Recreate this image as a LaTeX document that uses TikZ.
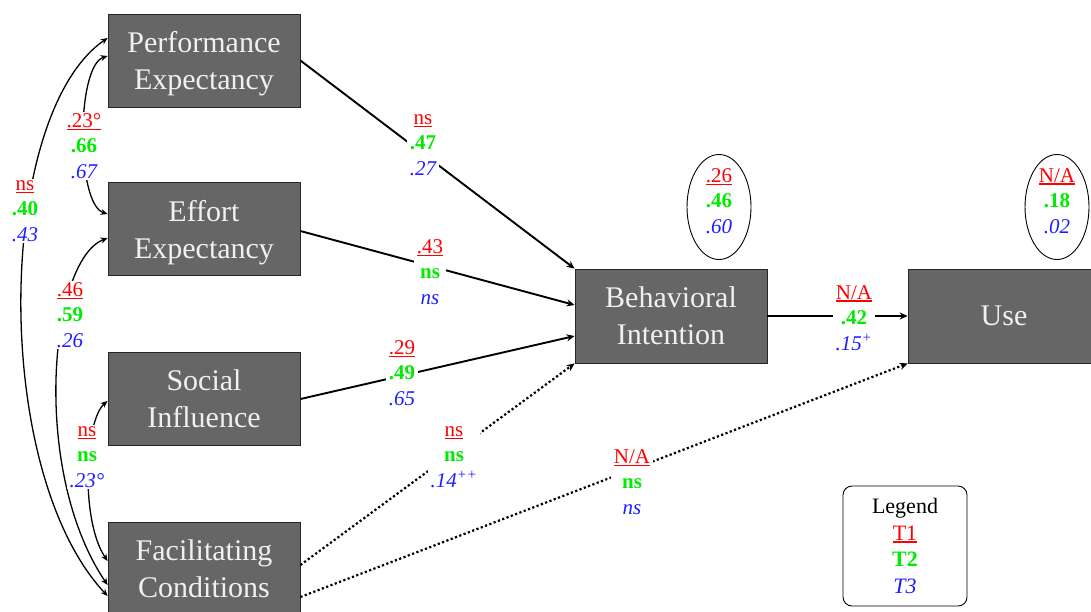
\documentclass[tikz,border=0pt]{standalone}
\usepackage{fontspec}
\setmainfont{Liberation Serif}
\usetikzlibrary{arrows.meta,shapes.geometric}

\definecolor{boxgray}{RGB}{102,102,102}
\definecolor{tone}{RGB}{255,0,0}
\definecolor{ttwo}{RGB}{0,235,0}
\definecolor{tthree}{RGB}{30,30,255}

% the three waves: T1 red underlined, T2 green bold, T3 blue italic
\newsavebox\ulbox
\newcommand\tfirst[1]{\textcolor{tone}{\sbox\ulbox{#1}\rlap{\rule[-3pt]{\wd\ulbox}{1.8pt}}\usebox\ulbox}}
\newcommand\tsecond[1]{\textcolor{ttwo}{\bfseries #1}}
\newcommand\tthird[1]{\textcolor{tthree}{\itshape #1}}

\tikzset{
  box/.style={draw=black!85, line width=0.8pt, fill=boxgray, text=white!94!black,
    minimum width=192pt, minimum height=93pt, inner sep=0pt, align=center,
    font=\fontsize{30}{37}\selectfont},
  twoline/.style={text depth=-3pt},
  vals/.style={align=center, inner xsep=3pt, inner ysep=1pt,
    font=\fontsize{21}{25.5}\selectfont},
  lbl/.style={vals, fill=white},
  rsq/.style={draw, ellipse, line width=0.9pt, minimum width=64pt,
    minimum height=105pt, inner sep=0pt},
  path/.style={line width=1.9pt, -{Stealth[length=8pt,width=7pt]}},
  dpath/.style={line width=2.2pt, dash pattern=on 2.2pt off 2.4pt,
    -{Stealth[length=8pt,width=7pt]}},
  corr/.style={line width=1.3pt, {Stealth[length=7pt,width=6pt]}-{Stealth[length=7pt,width=6pt]}},
}

\begin{document}
\begin{tikzpicture}[x=1pt,y=-1pt]
\useasboundingbox (0,0) rectangle (1091,611);

% constructs
\node[box, twoline] (PE) at (204,60.5) {Performance\\Expectancy};
\node[box, twoline] (EE) at (204,229) {Effort\\Expectancy};
\node[box, twoline] (SI) at (204,399) {Social\\Influence};
\node[box, twoline] (FC) at (204,568.5) {Facilitating\\Conditions};
\node[box, twoline, minimum height=94pt] (BI) at (671,316) {Behavioral\\Intention};
\node[box, minimum height=94pt] (USE) at (1004,316) {Use};

% explained variance
\node[rsq] (rBI) at (719,207) {};
\node[rsq] (rUSE) at (1057,207) {};
\node[vals] (vBI) at (719,201) {\tfirst{.26}\\\tsecond{.46}\\\tthird{.60}};
\node[vals] (vUSE) at (1057,201) {\tfirst{N/A}\\\tsecond{.18}\\\tthird{.02}};

% structural paths
\draw[path] (PE.east) -- (BI.north west);
\draw[path] ([yshift=-2pt]EE.east) -- ([yshift=11pt]BI.west);
\draw[path] (SI.east) -- ([yshift=-20pt]BI.west);
\draw[dpath] ([yshift=3.5pt]FC.east) -- (BI.south west);
\draw[dpath] ([yshift=-28.5pt]FC.east) -- (USE.south west);
\draw[path] (BI.east) -- (USE.west);

% correlations among the predictors
\draw[corr] ([yshift=4.5pt]PE.west) .. controls (76,66) and (76,204) .. ([yshift=15pt]EE.west);
\draw[corr] ([yshift=22.5pt]PE.west) .. controls (-4,115) and (-10,470) .. ([yshift=-27.5pt]FC.west);
\draw[corr] ([yshift=-9pt]EE.west) .. controls (50,260) and (30,470) .. ([yshift=-16.5pt]FC.west);
\draw[corr] ([yshift=-2pt]SI.west) .. controls (85,420) and (80,520) .. ([yshift=7.5pt]FC.west);

% coefficients
\node[lbl] (cPEEE) at (84,146) {\tfirst{.23°}\\\tsecond{.66}\\\tthird{.67}};
\node[lbl] (cPEFC) at (25,211) {\tfirst{ns}\\\tsecond{.40}\\\tthird{.43}};
\node[lbl] (cEEFC) at (70,315) {\tfirst{.46}\\\tsecond{.59}\\\tthird{.26}};
\node[lbl] (cSIFC) at (87,457) {\tfirst{ns}\\\tsecond{ns}\\\tthird{.23°}};

\node[lbl] (bPE) at (423,145) {\tfirst{ns}\\\tsecond{.47}\\\tthird{.27}};
\node[lbl] (bEE) at (430,272) {\tfirst{.43}\\\tsecond{ns}\\\tthird{ns}};
\node[lbl] (bSI) at (402,373) {\tfirst{.29}\\\tsecond{.49}\\\tthird{.65}};
\node[lbl] (bFCBI) at (454,457) {\tfirst{ns}\\\tsecond{ns}\\\tthird{.14\textsuperscript{++}}};
\node[lbl] (bBI) at (854,318) {\tfirst{N/A}\\\tsecond{.42}\\\tthird{.15\textsuperscript{+}}};
\node[lbl] (bFCUSE) at (632,482) {\tfirst{N/A}\\\tsecond{ns}\\\tthird{ns}};

% legend
\node[draw, line width=0.9pt, rounded corners=9pt, minimum width=124pt,
  minimum height=120pt, align=center, inner sep=0pt,
  font=\fontsize{22}{26.5}\selectfont] (legend) at (905,546)
  {Legend\\\tfirst{T1}\\\tsecond{T2}\\\tthird{T3}};
\end{tikzpicture}
\end{document}
